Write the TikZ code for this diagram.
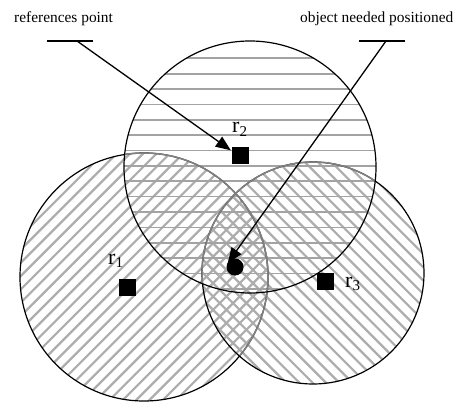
\documentclass[tikz,border=0pt]{standalone}
\usepackage{fontspec}
\setmainfont{Liberation Serif}
\usetikzlibrary{arrows.meta}
\tikzset{
  hatchH/.style={line width=1.7pt, black!36},
  hatchD/.style={line width=2.2pt, black!32},
  ring/.style={line width=1.2pt, black},
  ringgray/.style={line width=1.5pt, black!50},
  sq/.style={fill=black, inner sep=0pt, minimum size=17pt},
  dotnode/.style={circle, fill=black, inner sep=0pt, minimum size=17pt},
  lbl/.style={inner sep=0pt, anchor=base west, font=\fontsize{22}{24}\selectfont},
  captext/.style={inner sep=0pt, anchor=base west, font=\fontsize{15.4}{18}\selectfont},
  barline/.style={line width=2.6pt},
  arr/.style={line width=1.3pt, -{Triangle[length=15pt,width=12pt]}}
}
\newcommand{\mysub}[1]{\raisebox{-0.3ex}{\fontsize{15}{16}\selectfont #1}}
\begin{document}
\begin{tikzpicture}[x=1pt,y=-1pt]
\useasboundingbox (0,0) rectangle (457,403);
% hatching circle 1 (left)
\begin{scope}
  \clip (144,277) circle[radius=124];
  \foreach \k in {-9,...,21}{
    \pgfmathsetmacro\c{336.7+13.3*\k}
    \draw[hatchD] (\c-450,450) -- (\c+50,-50);
  }
\end{scope}
% hatching circle 3 (right)
\begin{scope}
  \clip (313,273) circle[radius=111];
  \foreach \k in {-16,...,12}{
    \pgfmathsetmacro\c{-23+13.3*\k}
    \draw[hatchD] (-100,-100+\c) -- (500,500+\c);
  }
\end{scope}
% hatching circle 2 (top)
\begin{scope}
  \clip (250,167) circle[radius=126];
  \foreach \k in {0,...,15}{
    \pgfmathsetmacro\c{58.3+15.37*\k}
    \draw[hatchH] (100,\c) -- (400,\c);
  }
\end{scope}
% outlines
\draw[ring] (144,277) circle[radius=124];
\begin{scope}
  \clip (313,273) circle[radius=111];
  \draw[ringgray] (144,277) circle[radius=124];
\end{scope}
\draw[ring] (313,273) circle[radius=111];
\begin{scope}
  \clip (250,167) circle[radius=126];
  \draw[ringgray] (144,277) circle[radius=124];
  \draw[ringgray] (313,273) circle[radius=111];
\end{scope}
\draw[ring] (250,167) circle[radius=126];
% reference points and object
\node[sq] (r1) at (127,287) {};
\node[sq] (r2) at (240,156) {};
\node[sq] (r3) at (325,281) {};
\node[dotnode] (obj) at (235,267) {};
\node[lbl] (l1) at (108,264) {r\mysub{1}};
\node[lbl] (l2) at (232,133) {r\mysub{2}};
\node[lbl] (l3) at (345,287) {r\mysub{3}};
% captions and bars
\node[captext] (t1) at (14,23) {references point};
\node[captext] (t2) at (300,23) {object needed positioned};
\coordinate (b1a) at (47,41);
\coordinate (b1b) at (93,41);
\coordinate (b2a) at (359,41);
\coordinate (b2b) at (405,41);
\coordinate (s1) at (77,41);
\coordinate (s2) at (386,41);
\draw[barline] (b1a) -- (b1b);
\draw[barline] (b2a) -- (b2b);
\draw[arr] (s1) -- ([xshift=-0.5pt,yshift=-3pt]r2.north west);
\draw[arr] (s2) -- ([xshift=-1pt,yshift=-2pt]obj.north west);
\end{tikzpicture}
\end{document}
